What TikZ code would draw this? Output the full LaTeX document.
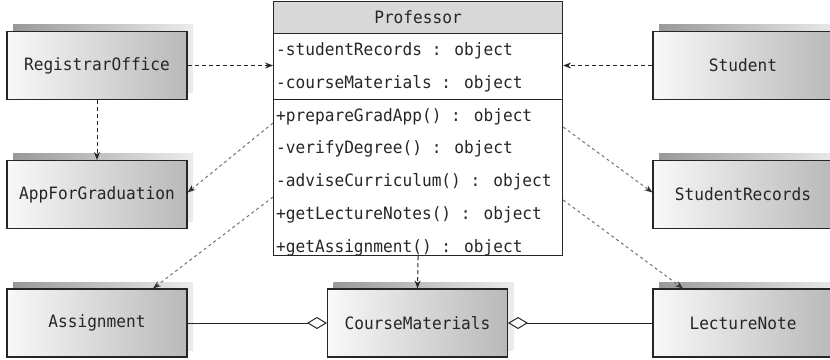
\documentclass[tikz,border=0pt]{standalone}
\usepackage{fontspec}
\newfontfamily\umlfont[FakeStretch=0.95]{DejaVu Sans Mono}
\usetikzlibrary{arrows.meta,shadows}
\begin{document}
\begin{tikzpicture}[x=1pt,y=-1pt,
  umltext/.style={font=\umlfont\fontsize{17}{20}\selectfont, text=black!85},
  cls/.style={umltext, draw=black!85, line width=1.1pt, minimum width=180pt, minimum height=68pt,
    inner sep=0pt, left color=gray!5, right color=gray!55,
    general shadow={shadow xshift=6pt, shadow yshift=7pt, left color=gray!80, right color=gray!15}},
  part/.style={draw=black!85, line width=1.1pt, minimum width=289pt, inner sep=0pt, anchor=north west},
  row/.style={umltext, anchor=base west, inner sep=0pt},
  dep/.style={draw=black!85, line width=1pt, dash pattern=on 4pt off 3pt, -{Stealth[length=8pt,width=6pt]}},
  ddep/.style={draw=black!55, line width=1pt, dash pattern=on 3pt off 3pt, -{Stealth[length=8pt,width=6pt,color=black!80]}},
  agg/.style={draw=black!85, line width=1pt, {Diamond[open,length=20pt,width=12pt,fill=white]}-}
]
\useasboundingbox (0,0) rectangle (830,359);

% class boxes
\node[cls] (ro)  at (97,65.5)   {RegistrarOffice};
\node[cls] (afg) at (97,194.5)  {AppForGraduation};
\node[cls] (st)  at (743,65.5)  {Student};
\node[cls] (sr)  at (743,194.5) {StudentRecords};
\node[cls] (as)  at (97,323)    {Assignment};
\node[cls] (cm)  at (417.5,323) {CourseMaterials};
\node[cls] (ln)  at (743,323)   {LectureNote};

% Professor class
\node[part, fill=white, minimum height=254pt] (prof) at (273,1) {};
\node[part, fill=gray!30, minimum height=32pt, umltext] (ph) at (273,1) {Professor};
\node[part, minimum height=66pt] (pa) at (273,33) {};
\node[part, minimum height=156pt] (pm) at (273,99) {};
\node[row] (r1) at (276,55.5)  {-studentRecords : object};
\node[row] (r2) at (276,88.5)  {-courseMaterials : object};
\node[row] (r3) at (276,121)   {+prepareGradApp() : object};
\node[row] (r4) at (276,153.5) {-verifyDegree() : object};
\node[row] (r5) at (276,186.5) {-adviseCurriculum() : object};
\node[row] (r6) at (276,219)   {+getLectureNotes() : object};
\node[row] (r7) at (276,252)   {+getAssignment() : object};

% dependencies
\draw[dep] (ro.east) -- (ro.east -| prof.west);
\draw[dep] (st.west) -- (st.west -| prof.east);
\draw[dep] (ro.south) -- (afg.north);
\draw[dep] (prof.south) -- (cm.north);
\draw[ddep] ([yshift=-122pt]prof.north west) -- ([yshift=2pt]afg.east);
\draw[ddep] ([yshift=-126pt]prof.north east) -- ([yshift=2pt]sr.west);
\draw[ddep] ([yshift=-196pt]prof.north west) -- ([xshift=56pt]as.north);
\draw[ddep] ([yshift=-199pt]prof.north east) -- ([xshift=-60pt]ln.north);

% aggregations
\draw[agg] (cm.west) -- (as.east);
\draw[agg] (cm.east) -- (ln.west);
\end{tikzpicture}
\end{document}
